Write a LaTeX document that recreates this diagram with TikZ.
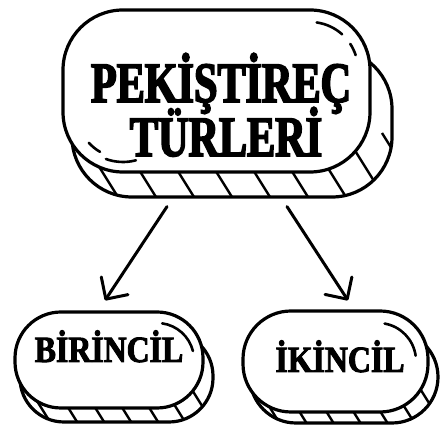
\documentclass[tikz,border=0pt]{standalone}
\usepackage{fontspec}
\newfontfamily\headfont[FakeStretch=0.74,FakeBold=3]{Liberation Serif Bold}
\newfontfamily\leaffont[FakeStretch=0.86,FakeBold=2.5]{Liberation Serif Bold}
\usetikzlibrary{arrows.meta}

\begin{document}
\begin{tikzpicture}[x=1pt,y=1pt,
    face/.style={draw, line width=3.2pt, fill=white, rounded corners=#1, inner sep=0pt},
    stripe/.style={line width=2.4pt},
    shine/.style={line width=2.6pt, line cap=round},
    arrowline/.style={line width=3pt, line cap=round, -{Straight Barb[length=16pt,width=32pt,round]}},
    headtxt/.style={inner sep=0pt, font=\headfont\fontsize{57}{57}\selectfont},
    leaftxt/.style={inner sep=0pt, font=\leaffont\fontsize{37}{37}\selectfont}]

    \useasboundingbox (0,0) rectangle (442,433);

    % top box: base, stripes, face
    \node[face=60pt, minimum width=320pt, minimum height=148pt] (topbase) at (232,310) {};
    \begin{scope}
        \clip[rounded corners=60pt] (72,236) rectangle (392,384);
        \clip (0,0) rectangle (442,300);
        \foreach \x in {40,78,...,420}
            \draw[stripe] (\x,300) -- ++(40,-64);
    \end{scope}
    \node[face=60pt, minimum width=307pt, minimum height=162pt] (top) at (216.5,342) {};
    \draw[shine] (310,363) ++(82:48) arc[start angle=82, end angle=48, radius=48];
    \draw[shine] (310,363) ++(33:48) arc[start angle=33, end angle=18, radius=48];
    \draw[shine] (123,321) ++(222:46) arc[start angle=222, end angle=240, radius=46];
    \draw[shine] (123,321) ++(250:50) arc[start angle=250, end angle=285, radius=50];
    \node[headtxt, anchor=base] (t1) at (221,331) {PEKİŞTİREÇ};
    \node[headtxt, anchor=base] (t2) at (226,277) {TÜRLERİ};

    % left box
    \node[face=44pt, minimum width=193pt, minimum height=90pt] (leftbase) at (116.5,56) {};
    \begin{scope}
        \clip[rounded corners=44pt] (20,11) rectangle (213,101);
        \clip (0,0) rectangle (442,48);
        \foreach \x in {0,27,...,230}
            \draw[stripe] (\x,48) -- ++(25,-40);
    \end{scope}
    \node[face=46pt, minimum width=188pt, minimum height=96pt] (birincil) at (109,73) {};
    \draw[shine] (157,73) ++(82:37) arc[start angle=82, end angle=14, radius=37];
    \node[leaftxt, anchor=base] (l1) at (109,71) {BİRİNCİL};

    % right box
    \node[face=46pt, minimum width=188pt, minimum height=92pt] (rightbase) at (344,56) {};
    \begin{scope}
        \clip[rounded corners=46pt] (250,10) rectangle (438,102);
        \clip (0,0) rectangle (442,46);
        \foreach \x in {230,257,...,460}
            \draw[stripe] (\x,46) -- ++(25,-40);
    \end{scope}
    \node[face=48pt, minimum width=185pt, minimum height=101pt] (ikincil) at (335.5,71.5) {};
    \draw[shine] (378,72) ++(80:38) arc[start angle=80, end angle=8, radius=38];
    \node[leaftxt, anchor=base] (r1) at (340,61) {İKİNCİL};

    % arrows
    \draw[arrowline] ([xshift=-65pt,yshift=-8pt]topbase.south) -- ([xshift=-4pt,yshift=10pt]birincil.north);
    \draw[arrowline] ([xshift=55pt,yshift=-8pt]topbase.south) -- ([xshift=12.5pt,yshift=9pt]ikincil.north);

\end{tikzpicture}
\end{document}
